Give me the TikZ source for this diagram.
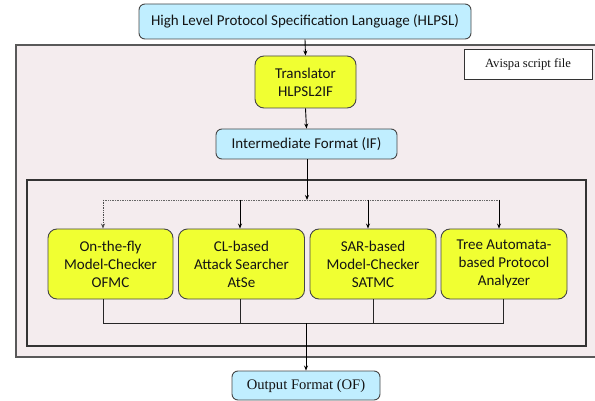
\documentclass[tikz,border=0pt]{standalone}
\usepackage{fontspec}
\setmainfont{Liberation Serif}
\newfontfamily\calfont{Carlito}
\newfontfamily\timesfont{Liberation Serif}
\usetikzlibrary{arrows.meta}
\definecolor{lblue}{RGB}{192,238,255}
\definecolor{lyellow}{RGB}{240,255,50}
\definecolor{lpink}{RGB}{244,236,238}
\definecolor{bordergray}{RGB}{70,70,70}
\definecolor{txt}{RGB}{20,20,20}
\tikzset{
  bluebox/.style={draw=bordergray, fill=lblue, rounded corners=6pt, line width=0.9pt, inner sep=0pt, text=txt, font=\calfont\fontsize{15}{18}\selectfont},
  yelbox/.style={draw=bordergray, fill=lyellow, rounded corners=9pt, line width=0.9pt, inner sep=0pt, align=center, text=txt, font=\calfont\fontsize{15}{18}\selectfont},
  arr/.style={-{Stealth[length=5pt,width=4pt]}, line width=0.9pt, black},
  dotarr/.style={-{Stealth[length=5pt,width=4pt]}, line width=0.7pt, densely dotted, black!70},
  bus/.style={line width=0.7pt, densely dotted, black!60},
  line/.style={line width=0.8pt, black!85}
}
\begin{document}
\begin{tikzpicture}[x=1pt,y=-1pt]
\useasboundingbox (0,0) rectangle (595,401);
% outer pink box
\fill[lpink] (16,45) rectangle (595,357);
\draw[line width=1.4pt, black!65] (595,45) -- (16,45) -- (16,357) -- (595,357);
% inner box
\draw[line width=1.1pt, black!80] (27,180) rectangle (586,346);

\node[bluebox, minimum width=332pt, minimum height=35pt] (hlpsl) at (305,21.5) {High Level Protocol Specification Language (HLPSL)};
\node[draw=black!80, fill=white, line width=0.9pt, minimum width=128pt, minimum height=30pt, inner sep=0pt, font=\timesfont\fontsize{12.6}{15}\selectfont, text=txt] (avispa) at (528,64) {Avispa script file};
\node[yelbox, minimum width=101pt, minimum height=52pt] (trans) at (305.5,82) {Translator\\HLPSL2IF};
\node[bluebox, minimum width=181pt, minimum height=30pt] (if) at (306.5,144) {Intermediate Format (IF)};

\node[yelbox, minimum width=125pt, minimum height=70pt] (m1) at (110.5,264) {On-the-fly\\Model-Checker\\OFMC};
\node[yelbox, minimum width=126pt, minimum height=70pt] (m2) at (241.5,264) {CL-based\\Attack Searcher\\AtSe};
\node[yelbox, minimum width=126pt, minimum height=70pt] (m3) at (373,264) {SAR-based\\Model-Checker\\SATMC};
\node[yelbox, minimum width=126pt, minimum height=70pt] (m4) at (504,264) {Tree Automata-\\based Protocol\\Analyzer};

\node[bluebox, minimum width=148pt, minimum height=29pt, font=\timesfont\fontsize{14.6}{17}\selectfont] (of) at (306,385.5) {Output Format (OF)};

% top connectors
\draw[arr] (hlpsl.south) -- (trans.north);
\draw[arr] (trans.south) -- (if.north);
\coordinate (bt) at (307,200);
\coordinate (b1) at (103,200);
\coordinate (b2) at (240,200);
\coordinate (b3) at (368,200);
\coordinate (b4) at (499,200);
\draw[arr] (if.south -| bt) -- (bt);
\draw[bus] (b1) -- (b4);
\draw[dotarr] (b1) -- (b1 |- m1.north);
\draw[arr] (b2) -- (b2 |- m2.north);
\draw[arr] (b3) -- (b3 |- m3.north);
\draw[arr] (b4) -- (b4 |- m4.north);

% bottom connectors
\coordinate (c1) at (103,323);
\coordinate (c2) at (240,323);
\coordinate (c3) at (373,323);
\coordinate (c4) at (503,323);
\coordinate (cm) at (306,323);
\draw[line] (c1 |- m1.south) -- (c1) -- (c4) -- (c4 |- m4.south);
\draw[line] (c2 |- m2.south) -- (c2);
\draw[line] (c3 |- m3.south) -- (c3);
\draw[arr] (cm) -- (of.north);
\end{tikzpicture}
\end{document}
